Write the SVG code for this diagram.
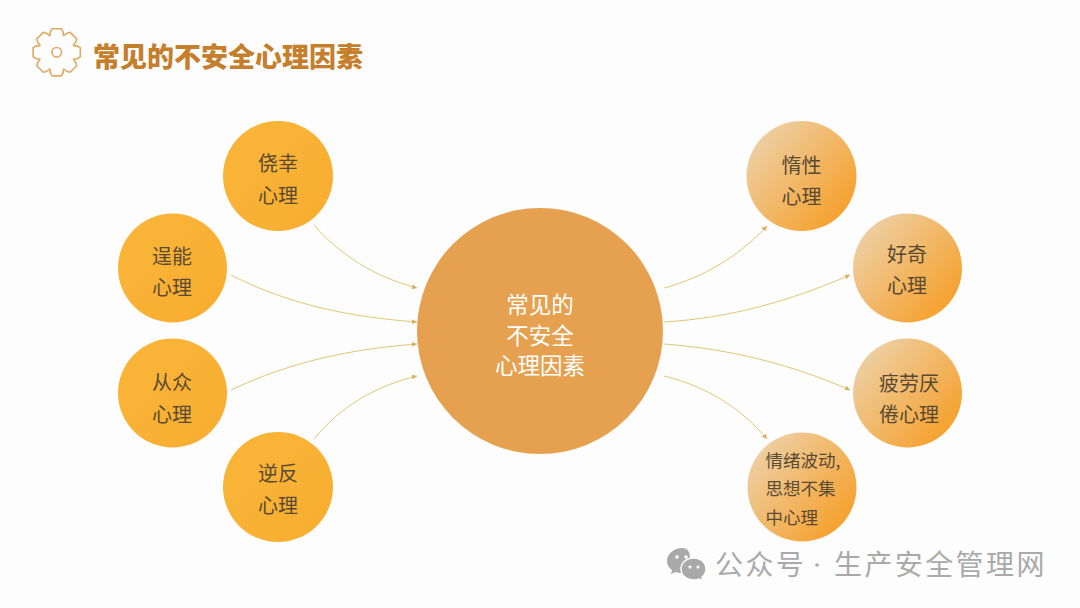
<svg xmlns="http://www.w3.org/2000/svg" width="1080" height="608" viewBox="0 0 1080 608">
<style>
text{font-family:"Noto Sans CJK SC","Noto Sans",sans-serif;text-anchor:middle}
.n{font-size:20px;fill:#5a4a33}
.s{font-size:17.5px;fill:#5a4a33;text-anchor:start}
.c{font-size:22.5px;fill:#fff}
.t{font-size:27px;font-weight:900;fill:#c57f2c;text-anchor:start}
.w{font-size:28px;fill:#a9a9a9;text-anchor:start;letter-spacing:2.4px}
.l{fill:none;stroke:#e3c673;stroke-width:1;marker-end:url(#a)}
.y{fill:url(#gy)}
.o{fill:url(#go)}
</style>
<defs>
<marker id="a" markerWidth="6" markerHeight="6" refX="5" refY="2.5" orient="auto" markerUnits="userSpaceOnUse"><path d="M0 0L5 2.5L0 5z" fill="#d9ae5e"/></marker>
<linearGradient id="gy" x1="0" y1="0" x2="1" y2="1"><stop offset="0" stop-color="#f9b63a"/><stop offset="1" stop-color="#f8ad2f"/></linearGradient>
<linearGradient id="go" x1="0.1" y1="0.15" x2="0.9" y2="0.85"><stop offset="0" stop-color="#edcfa3"/><stop offset="1" stop-color="#f6a02c"/></linearGradient>
<path id="tooth" d="M-6.9-16.9Q-6.2-19-6.5-20.2L-4.6-23.6L4.600-23.6L6.500-20.2Q6.200-19 6.900-16.9" fill="none" stroke="#e0aa66" stroke-width="1.6" stroke-linejoin="round" stroke-linecap="round"/>
</defs>
<rect width="1080" height="608" fill="#fdfdfd"/>
<g id="title">
<g id="gear" transform="translate(56.7 52.3)">
<use href="#tooth"/><use href="#tooth" transform="rotate(45)"/><use href="#tooth" transform="rotate(90)"/><use href="#tooth" transform="rotate(135)"/><use href="#tooth" transform="rotate(180)"/><use href="#tooth" transform="rotate(225)"/><use href="#tooth" transform="rotate(270)"/><use href="#tooth" transform="rotate(315)"/>
<circle r="4.8" fill="none" stroke="#e0aa66" stroke-width="1.6"/>
</g>
<text class="t" x="93" y="67">常见的不安全心理因素</text>
</g>
<g id="connectors">
<path class="l" d="M314 225C340 255 375 277 417 288"/>
<path class="l" d="M231 275C290 305 350 317 417 322"/>
<path class="l" d="M231 390C290 362 350 349 417 344"/>
<path class="l" d="M314 439C340 407 375 386 417 376"/>
<path class="l" d="M664 288C705 277 740 255 767 226"/>
<path class="l" d="M664 322C730 318 790 301 850 275"/>
<path class="l" d="M664 344C730 349 790 364 850 390"/>
<path class="l" d="M664 376C705 386 740 407 767 439"/>
</g>
<g id="center"><circle cx="540" cy="331" r="123" fill="#e5a14f"/><text class="c" x="540" y="313">常见的</text><text class="c" x="540" y="344">不安全</text><text class="c" x="540" y="374">心理因素</text></g>
<g id="n1"><circle class="y" cx="278" cy="176" r="55"/><text class="n" x="278" y="171">侥幸</text><text class="n" x="278" y="203">心理</text></g>
<g id="n2"><circle class="y" cx="172.500" cy="268" r="54.500"/><text class="n" x="172" y="264">逞能</text><text class="n" x="172" y="295">心理</text></g>
<g id="n3"><circle class="y" cx="172.500" cy="393" r="54.500"/><text class="n" x="172" y="389.500">从众</text><text class="n" x="172" y="421.500">心理</text></g>
<g id="n4"><circle class="y" cx="278" cy="487" r="55"/><text class="n" x="278" y="481">逆反</text><text class="n" x="278" y="513">心理</text></g>
<g id="n5"><circle class="o" cx="801.500" cy="176" r="55"/><text class="n" x="801.500" y="173">惰性</text><text class="n" x="801.500" y="204">心理</text></g>
<g id="n6"><circle class="o" cx="907.500" cy="268" r="54.500"/><text class="n" x="907" y="262">好奇</text><text class="n" x="907" y="293">心理</text></g>
<g id="n7"><circle class="o" cx="907.500" cy="393" r="54.500"/><text class="n" x="909" y="390.500">疲劳厌</text><text class="n" x="909" y="422">倦心理</text></g>
<g id="n8"><circle class="o" cx="802" cy="487" r="54.500"/><text class="s" x="765.500" y="467">情绪波动,</text><text class="s" x="765.500" y="495">思想不集</text><text class="s" x="765.500" y="524">中心理</text></g>
<g id="watermark">
<path d="M682 548C674 548 667 554 667 561C667 565 669 568 672 570L671 574L676 572C678 573 680 573 682 573L690 560C690 553 689 548 682 548Z" fill="#a9a9a9"/>
<path d="M694 558C686 558 681 563 681 569C681 575 686 580 694 580C696 580 698 580 699 579L703 581L702 577C705 575 706 572 706 569C706 563 701 558 694 558Z" fill="#a9a9a9" stroke="#fdfdfd" stroke-width="1.500"/>
<circle cx="677" cy="557" r="1.800" fill="#fdfdfd"/><circle cx="686" cy="557" r="1.800" fill="#fdfdfd"/><circle cx="690" cy="567" r="1.600" fill="#fdfdfd"/><circle cx="698" cy="567" r="1.600" fill="#fdfdfd"/>
<text class="w" x="715" y="575">公众号</text><circle cx="817" cy="565" r="1.800" fill="#a9a9a9"/><text class="w" x="834" y="575">生产安全管理网</text>
</g>
</svg>
